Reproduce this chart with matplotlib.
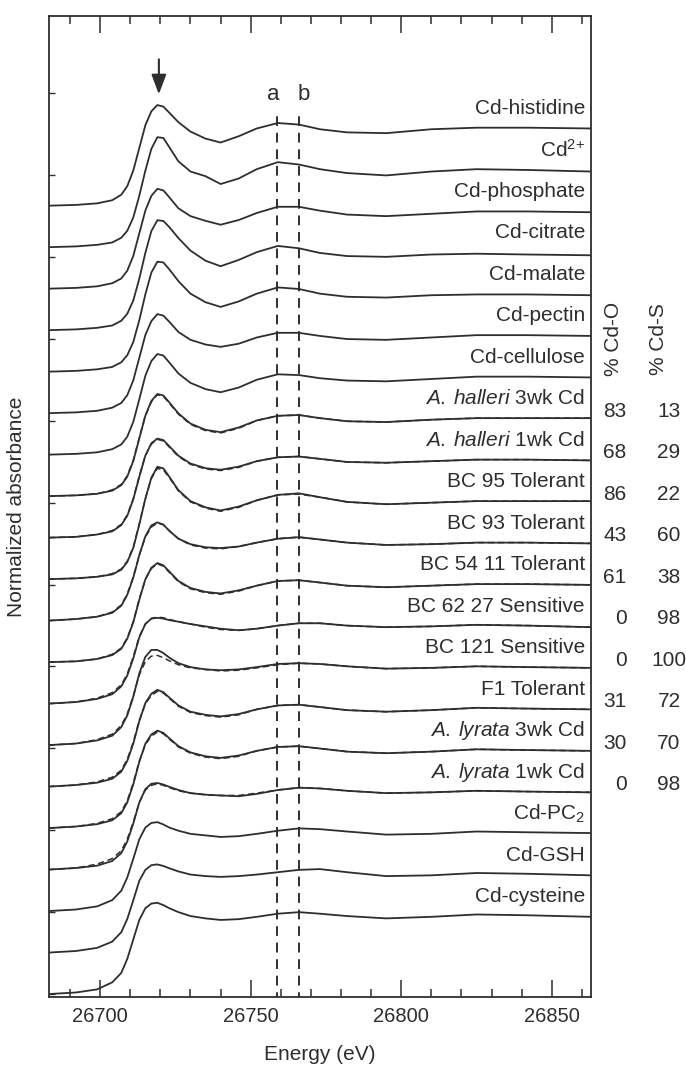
import numpy as np
import matplotlib
matplotlib.use("Agg")
import matplotlib.pyplot as plt
from matplotlib.ticker import MultipleLocator

plt.rcParams['font.family'] = ['Liberation Sans', 'DejaVu Sans']
plt.rcParams['mathtext.fontset'] = 'custom'
plt.rcParams['mathtext.rm'] = 'Liberation Sans'
plt.rcParams['mathtext.it'] = 'Liberation Sans:italic'

# energy grid (eV) shared by all spectra
energy = [26683, 26692, 26699, 26704, 26707, 26709, 26711, 26713, 26715, 26717,
          26719, 26721, 26723, 26726, 26730, 26735, 26740, 26746, 26752, 26759,
          26766, 26773, 26782, 26795, 26810, 26825, 26842, 26863]

# normalized absorbance (top to bottom)
cd_histidine = [0.00, 0.01, 0.03, 0.07, 0.14, 0.25, 0.45, 0.74, 1.03, 1.21, 1.29, 1.27, 1.19, 1.07,
                0.95, 0.86, 0.81, 0.89, 0.99, 1.06, 1.04, 0.98, 0.94, 0.93, 0.98, 1.00, 1.00, 0.99]
cd_2plus = [0.00, 0.01, 0.03, 0.06, 0.12, 0.21, 0.38, 0.66, 0.98, 1.26, 1.41, 1.40, 1.28, 1.10,
            0.97, 0.91, 0.81, 0.88, 1.00, 1.09, 1.06, 1.00, 0.95, 0.92, 0.97, 1.00, 0.99, 0.97]
cd_phosphate = [0.00, 0.01, 0.03, 0.07, 0.13, 0.23, 0.42, 0.71, 1.00, 1.19, 1.28, 1.26, 1.17, 1.03,
                0.93, 0.87, 0.82, 0.88, 0.97, 1.05, 1.05, 1.00, 0.95, 0.93, 0.96, 0.99, 0.99, 0.98]
cd_citrate = [0.00, 0.01, 0.03, 0.06, 0.12, 0.21, 0.38, 0.66, 0.99, 1.27, 1.41, 1.40, 1.32, 1.18,
              1.02, 0.89, 0.82, 0.90, 1.00, 1.08, 1.05, 0.99, 0.95, 0.94, 0.97, 0.98, 0.97, 0.96]
cd_malate = [0.00, 0.01, 0.03, 0.06, 0.12, 0.21, 0.38, 0.66, 0.99, 1.27, 1.41, 1.40, 1.31, 1.16,
             1.00, 0.89, 0.83, 0.90, 1.00, 1.08, 1.06, 1.00, 0.96, 0.95, 0.98, 0.99, 0.99, 0.98]
cd_pectin = [0.00, 0.01, 0.03, 0.07, 0.13, 0.23, 0.42, 0.71, 1.00, 1.18, 1.27, 1.25, 1.17, 1.04,
             0.94, 0.88, 0.85, 0.89, 0.97, 1.03, 1.03, 0.99, 0.95, 0.94, 0.97, 1.00, 1.00, 0.99]
cd_cellulose = [0.00, 0.01, 0.03, 0.07, 0.13, 0.23, 0.42, 0.71, 1.01, 1.20, 1.29, 1.27, 1.18, 1.04,
                0.92, 0.84, 0.80, 0.86, 0.96, 1.03, 1.02, 0.98, 0.95, 0.94, 0.97, 1.00, 1.00, 0.99]
halleri_3wk = [0.00, 0.01, 0.03, 0.07, 0.14, 0.25, 0.45, 0.74, 1.03, 1.22, 1.31, 1.29, 1.20, 1.06,
               0.93, 0.85, 0.82, 0.88, 0.97, 1.03, 1.04, 1.00, 0.96, 0.95, 0.98, 1.00, 1.00, 1.00]
halleri_1wk = [0.00, 0.01, 0.04, 0.08, 0.16, 0.28, 0.49, 0.78, 1.05, 1.21, 1.27, 1.25, 1.17, 1.05,
               0.95, 0.89, 0.87, 0.91, 0.98, 1.03, 1.04, 1.01, 0.97, 0.96, 0.98, 1.00, 1.00, 0.99]
bc95_tol = [0.00, 0.01, 0.03, 0.06, 0.12, 0.22, 0.40, 0.70, 1.03, 1.30, 1.44, 1.42, 1.31, 1.14,
            1.00, 0.92, 0.88, 0.93, 1.01, 1.08, 1.10, 1.05, 0.99, 0.96, 0.98, 1.00, 1.00, 1.00]
bc93_tol = [0.00, 0.02, 0.05, 0.10, 0.19, 0.33, 0.55, 0.84, 1.08, 1.22, 1.26, 1.23, 1.15, 1.05,
            0.98, 0.94, 0.93, 0.95, 1.00, 1.05, 1.07, 1.04, 1.00, 0.97, 0.98, 1.00, 1.00, 0.99]
bc54_tol = [0.00, 0.01, 0.04, 0.09, 0.17, 0.30, 0.51, 0.80, 1.06, 1.21, 1.27, 1.24, 1.16, 1.04,
            0.95, 0.90, 0.88, 0.92, 0.98, 1.04, 1.05, 1.02, 0.98, 0.96, 0.98, 1.00, 1.00, 0.99]
bc62_sens = [0.00, 0.02, 0.06, 0.12, 0.22, 0.36, 0.58, 0.85, 1.02, 1.09, 1.10, 1.09, 1.07, 1.05,
             1.02, 0.99, 0.96, 0.94, 0.96, 1.00, 1.03, 1.03, 1.00, 0.98, 0.99, 1.01, 1.00, 0.98]
bc121_sens = [0.00, 0.02, 0.06, 0.12, 0.23, 0.38, 0.62, 0.92, 1.13, 1.22, 1.22, 1.18, 1.12, 1.05,
              1.00, 0.97, 0.96, 0.97, 1.00, 1.04, 1.05, 1.04, 1.01, 0.98, 0.99, 1.01, 1.00, 0.99]
f1_tol = [0.00, 0.02, 0.05, 0.10, 0.19, 0.33, 0.55, 0.84, 1.07, 1.19, 1.24, 1.21, 1.14, 1.04,
          0.96, 0.92, 0.90, 0.93, 0.99, 1.04, 1.05, 1.02, 0.98, 0.96, 0.98, 1.01, 1.00, 0.99]
lyrata_3wk = [0.00, 0.02, 0.05, 0.10, 0.19, 0.33, 0.56, 0.85, 1.08, 1.20, 1.25, 1.22, 1.15, 1.05,
              0.97, 0.92, 0.90, 0.93, 0.99, 1.04, 1.05, 1.02, 0.98, 0.96, 0.98, 1.01, 1.00, 0.99]
lyrata_1wk = [0.00, 0.02, 0.05, 0.11, 0.21, 0.36, 0.59, 0.86, 1.03, 1.10, 1.11, 1.09, 1.06, 1.02,
              0.98, 0.96, 0.95, 0.94, 0.97, 1.02, 1.05, 1.04, 1.01, 0.98, 0.99, 1.01, 1.00, 0.99]
cd_pc2 = [0.00, 0.02, 0.06, 0.14, 0.26, 0.43, 0.67, 0.92, 1.07, 1.13, 1.14, 1.11, 1.07, 1.03,
          0.99, 0.97, 0.95, 0.96, 0.99, 1.03, 1.06, 1.05, 1.02, 0.98, 0.99, 1.02, 1.01, 1.00]
cd_gsh = [0.00, 0.02, 0.06, 0.14, 0.26, 0.43, 0.67, 0.92, 1.06, 1.12, 1.13, 1.11, 1.08, 1.04,
          1.00, 0.98, 0.97, 0.98, 1.00, 1.03, 1.06, 1.07, 1.03, 0.98, 0.99, 1.02, 1.01, 0.99]
cd_cysteine = [0.00, 0.02, 0.06, 0.15, 0.27, 0.45, 0.70, 0.95, 1.10, 1.16, 1.17, 1.14, 1.10, 1.05,
               1.00, 0.97, 0.95, 0.96, 0.99, 1.03, 1.05, 1.03, 1.00, 0.97, 0.99, 1.02, 1.01, 0.99]

labels = ["Cd-histidine", r"Cd$^{2{+}}$", "Cd-phosphate", "Cd-citrate", "Cd-malate",
          "Cd-pectin", "Cd-cellulose", r"$\it{A.\:halleri}$ 3wk Cd", r"$\it{A.\:halleri}$ 1wk Cd",
          "BC 95 Tolerant", "BC 93 Tolerant", "BC 54 11 Tolerant", "BC 62 27 Sensitive",
          "BC 121 Sensitive", "F1 Tolerant", r"$\it{A.\:lyrata}$ 3wk Cd",
          r"$\it{A.\:lyrata}$ 1wk Cd", r"Cd-PC$_2$", "Cd-GSH", "Cd-cysteine"]
spectra = [cd_histidine, cd_2plus, cd_phosphate, cd_citrate, cd_malate, cd_pectin,
           cd_cellulose, halleri_3wk, halleri_1wk, bc95_tol, bc93_tol, bc54_tol, bc62_sens,
           bc121_sens, f1_tol, lyrata_3wk, lyrata_1wk, cd_pc2, cd_gsh, cd_cysteine]

# linear-combination fits (dashed), keyed by spectrum index
fits = {
    7: [0.00, 0.01, 0.03, 0.08, 0.15, 0.26, 0.46, 0.75, 1.03, 1.21, 1.30, 1.28, 1.19, 1.05,
        0.92, 0.84, 0.81, 0.87, 0.97, 1.03, 1.04, 1.00, 0.96, 0.95, 0.98, 1.00, 1.00, 1.00],
    8: [0.00, 0.01, 0.04, 0.09, 0.17, 0.29, 0.50, 0.79, 1.05, 1.20, 1.26, 1.24, 1.16, 1.04,
        0.94, 0.88, 0.86, 0.90, 0.98, 1.03, 1.04, 1.01, 0.97, 0.96, 0.98, 1.00, 1.00, 0.99],
    9: [0.00, 0.01, 0.03, 0.07, 0.13, 0.23, 0.41, 0.71, 1.03, 1.29, 1.42, 1.40, 1.30, 1.13,
        0.99, 0.91, 0.87, 0.92, 1.01, 1.08, 1.09, 1.05, 0.99, 0.96, 0.98, 1.00, 1.00, 1.00],
    10: [0.00, 0.02, 0.05, 0.11, 0.20, 0.34, 0.56, 0.84, 1.07, 1.20, 1.25, 1.23, 1.15, 1.05,
         0.97, 0.93, 0.92, 0.95, 1.00, 1.05, 1.07, 1.04, 1.00, 0.97, 0.98, 1.00, 1.00, 0.99],
    11: [0.00, 0.01, 0.04, 0.10, 0.18, 0.31, 0.52, 0.81, 1.06, 1.20, 1.26, 1.23, 1.15, 1.03,
         0.94, 0.89, 0.87, 0.91, 0.98, 1.04, 1.05, 1.02, 0.98, 0.96, 0.98, 1.00, 1.00, 0.99],
    12: [0.00, 0.02, 0.07, 0.14, 0.24, 0.38, 0.60, 0.86, 1.02, 1.09, 1.11, 1.10, 1.08, 1.05,
         1.02, 0.98, 0.95, 0.94, 0.96, 1.00, 1.03, 1.03, 1.00, 0.98, 0.99, 1.01, 1.00, 0.98],
    13: [0.00, 0.02, 0.07, 0.14, 0.25, 0.40, 0.63, 0.90, 1.07, 1.14, 1.15, 1.12, 1.08, 1.03,
         0.99, 0.97, 0.95, 0.96, 0.99, 1.03, 1.05, 1.04, 1.01, 0.98, 0.99, 1.01, 1.00, 0.99],
    14: [0.00, 0.02, 0.06, 0.12, 0.21, 0.35, 0.57, 0.85, 1.06, 1.17, 1.22, 1.20, 1.13, 1.03,
         0.95, 0.91, 0.89, 0.92, 0.99, 1.04, 1.05, 1.02, 0.98, 0.96, 0.98, 1.01, 1.00, 0.99],
    15: [0.00, 0.02, 0.06, 0.12, 0.21, 0.35, 0.58, 0.86, 1.07, 1.18, 1.23, 1.21, 1.14, 1.04,
         0.96, 0.91, 0.89, 0.92, 0.99, 1.04, 1.05, 1.02, 0.98, 0.96, 0.98, 1.01, 1.00, 0.99],
    16: [0.00, 0.02, 0.07, 0.14, 0.24, 0.39, 0.61, 0.86, 1.02, 1.08, 1.10, 1.08, 1.05, 1.01,
         0.98, 0.96, 0.95, 0.95, 0.98, 1.02, 1.05, 1.04, 1.01, 0.98, 0.99, 1.01, 1.00, 0.99],
}

pct_cd_o = {7: "83", 8: "68", 9: "86", 10: "43", 11: "61", 12: "0", 13: "0", 14: "31", 15: "30", 16: "0"}
pct_cd_s = {7: "13", 8: "29", 9: "22", 10: "60", 11: "38", 12: "98", 13: "100", 14: "72", 15: "70", 16: "98"}

edge_peak = 26719.5
line_a, line_b = 26758.6, 26765.9

ink = '#2e2e2e'
step = 0.532  # vertical offset between stacked spectra

fig = plt.figure(figsize=(6.86, 10.67), dpi=100)
ax = fig.add_axes([0.0714, 0.0656, 0.79, 0.9194])

n = len(spectra)
for i, (lab, mu) in enumerate(zip(labels, spectra)):
    off = (n - 1 - i) * step
    ax.plot(energy, np.array(mu) + off, color=ink, lw=1.3, solid_joinstyle='round')
    if i in fits:
        ax.plot(energy, np.array(fits[i]) + off, color=ink, lw=1.1, ls=(0, (4, 2.5)))
    ax.text(26861, off + 1.25, lab, ha='right', va='center', fontsize=15, color=ink)
    if i in pct_cd_o:
        ax.text(1.066, off + 1.09, pct_cd_o[i], transform=ax.get_yaxis_transform(),
                ha='right', va='center', fontsize=15, color=ink)
        ax.text(1.144, off + 1.09, pct_cd_s[i], transform=ax.get_yaxis_transform(),
                ha='center', va='center', fontsize=15, color=ink)

ax.text(1.041, 8.4, "% Cd-O", transform=ax.get_yaxis_transform(), rotation=90,
        ha='center', va='center', fontsize=15, color=ink)
ax.text(1.124, 8.4, "% Cd-S", transform=ax.get_yaxis_transform(), rotation=90,
        ha='center', va='center', fontsize=15, color=ink)

# reference lines a and b
for xv in (line_a, line_b):
    ax.plot([xv, xv], [-0.1, 11.3], color=ink, lw=1.4, ls=(0, (5, 3.5)))
ax.text(26757.5, 11.53, 'a', ha='center', va='center', fontsize=16, color=ink)
ax.text(26767.5, 11.53, 'b', ha='center', va='center', fontsize=16, color=ink)

# arrow marking the white line
ax.annotate('', xy=(edge_peak, 11.5), xytext=(edge_peak, 12.02),
            arrowprops=dict(arrowstyle='-|>,head_width=0.45,head_length=1.2', color=ink, lw=1.5))

ax.set_xlim(26683, 26863)
ax.set_ylim(-0.038, 12.54)
ax.xaxis.set_major_locator(MultipleLocator(50))
ax.xaxis.set_minor_locator(MultipleLocator(10))
ax.set_yticks(np.arange(0, 12, 1.05))
ax.set_yticklabels([])
ax.tick_params(axis='x', which='major', direction='in', top=True, length=12.5, width=1.1,
               labelsize=14.5, pad=7, colors=ink)
ax.tick_params(axis='x', which='minor', direction='in', top=True, length=6, width=1.1, colors=ink)
ax.tick_params(axis='y', which='major', direction='in', length=4, width=1.0, colors=ink)
for s in ax.spines.values():
    s.set_color(ink)
    s.set_linewidth(1.3)

ax.set_xlabel("Energy (eV)", fontsize=15, color=ink, labelpad=14)
ax.set_ylabel("Normalized absorbance", fontsize=15, color=ink, labelpad=13)

fig.savefig("out.png", dpi=100)
